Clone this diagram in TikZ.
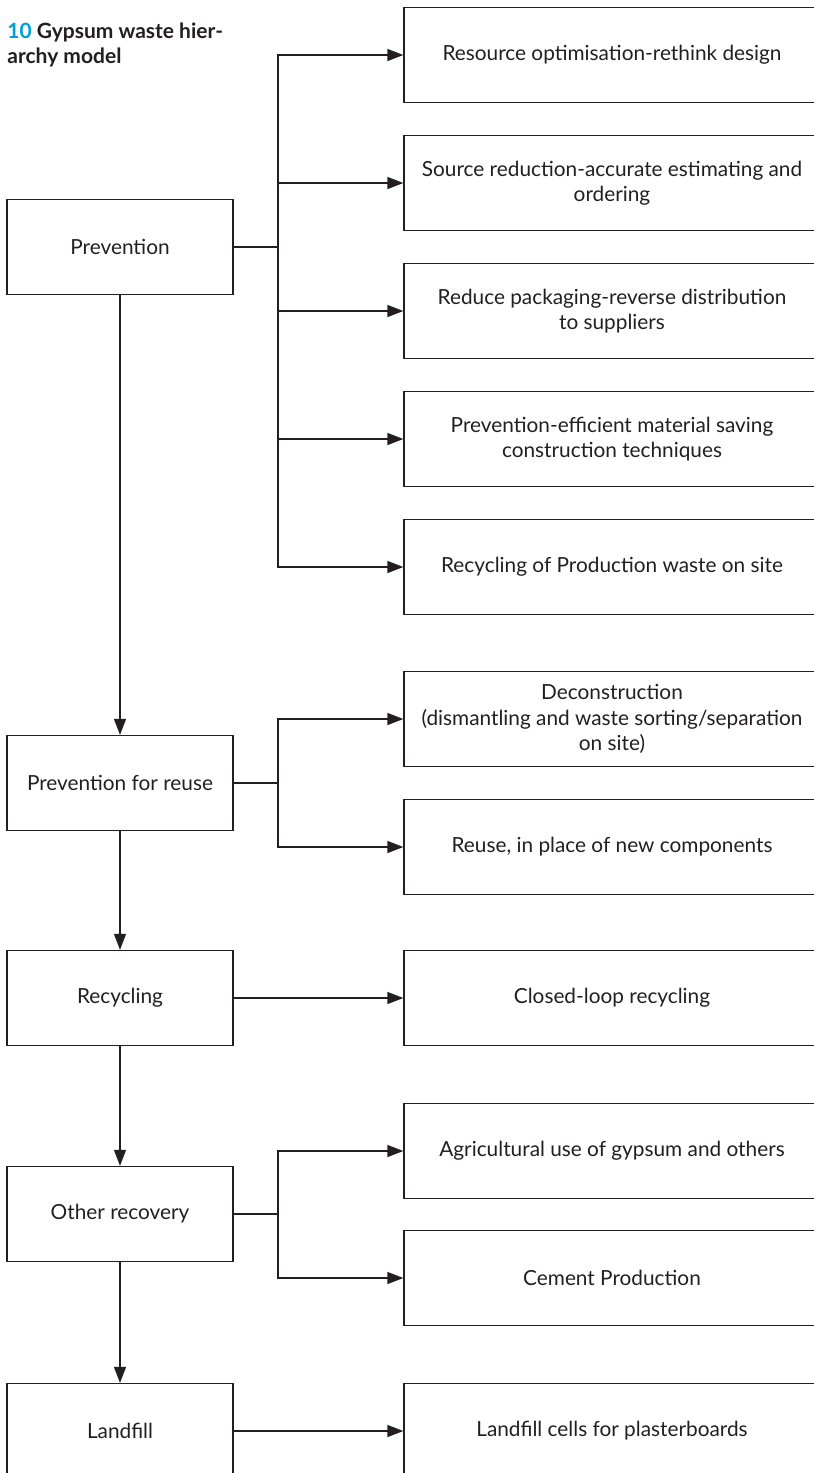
\documentclass[tikz,border=0pt]{standalone}
\usepackage{fontspec}
\setmainfont{Lato}
\usetikzlibrary{arrows.meta,positioning}
\definecolor{ink}{RGB}{35,31,32}
\definecolor{figblue}{RGB}{0,160,210}

\begin{document}
\begin{tikzpicture}[x=0.5pt,y=-0.5pt,
  font=\fontsize{10.4}{12.6}\selectfont,
  level/.style={draw=ink,line width=0.65pt,text=ink,align=center,minimum width=113pt,minimum height=47.5pt,inner sep=2pt},
  option/.style={level,minimum width=208pt},
  link/.style={draw=ink,line width=0.65pt},
  arr/.style={link,-{Triangle[length=8pt,width=6pt]}}]
\useasboundingbox (0,0) rectangle (814,1473);
\clip (0,0) rectangle (814,1473);
\node[anchor=base west,align=left,inner sep=0pt,text=ink,font=\bfseries\fontsize{10.5}{12.5}\selectfont] (title) at (7,63)
  {\textcolor{figblue}{10} Gypsum waste hier-\\archy model};
% hierarchy levels
\node[level] (prev) at (120,247) {Prevention};
\node[level] (reuse) at (120,783) {Prevention for reuse};
\node[level] (recyc) at (120,998) {Recycling};
\node[level] (other) at (120,1214) {Other recovery};
\node[level] (land) at (120,1431) {Landfill};
% options per level
\node[option] (r1) at (612,55) {Resource optimisation-rethink design};
\node[option] (r2) at (612,183) {Source reduction-accurate estimating and\\ordering};
\node[option] (r3) at (612,311) {Reduce packaging-reverse distribution\\to suppliers};
\node[option] (r4) at (612,439) {Prevention-efficient material saving\\construction techniques};
\node[option] (r5) at (612,567) {Recycling of Production waste on site};
\node[option] (d1) at (612,719) {Deconstruction\\(dismantling and waste sorting/separation\\on site)};
\node[option] (d2) at (612,847) {Reuse, in place of new components};
\node[option] (c1) at (612,998) {Closed-loop recycling};
\node[option] (a1) at (612,1151) {Agricultural use of gypsum and others};
\node[option] (a2) at (612,1278) {Cement Production};
\node[option] (l1) at (612,1431) {Landfill cells for plasterboards};
% branch points
\coordinate (j1) at (278,247);
\coordinate (j2) at (278,783);
\coordinate (j4) at (278,1214);
\draw[arr] (prev) -- (reuse);
\draw[arr] (reuse) -- (recyc);
\draw[arr] (recyc) -- (other);
\draw[arr] (other) -- (land);
\draw[link] (prev) -- (j1);
\draw[link] (reuse) -- (j2);
\draw[link] (other) -- (j4);
\foreach \n in {r1,r2,r3,r4,r5} \draw[arr] (j1) |- (\n.west);
\foreach \n in {d1,d2} \draw[arr] (j2) |- (\n.west);
\foreach \n in {a1,a2} \draw[arr] (j4) |- (\n.west);
\draw[arr] (recyc) -- (c1);
\draw[arr] (land) -- (l1);
\end{tikzpicture}
\end{document}
